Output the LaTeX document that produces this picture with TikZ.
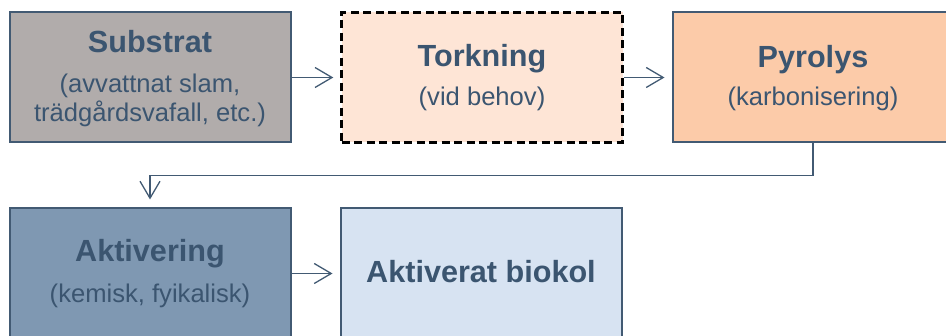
\documentclass[tikz,border=0pt]{standalone}
\usepackage{fontspec}
\setmainfont{Liberation Sans}
\usetikzlibrary{arrows.meta}

\definecolor{slate}{HTML}{425A73}
\definecolor{inkblue}{HTML}{3B5570}
\definecolor{greyfill}{HTML}{B1ACAB}
\definecolor{peachlight}{HTML}{FEE5D6}
\definecolor{peach}{HTML}{FCCBA9}
\definecolor{steel}{HTML}{7F98B2}
\definecolor{iceblue}{HTML}{D7E3F2}

\tikzset{
  stagebox/.style={draw=slate, line width=2pt, rectangle, inner sep=0pt,
    minimum width=281pt, minimum height=130pt},
  optbox/.style={draw=black, line width=2.4pt, dash pattern=on 8pt off 4.5pt,
    rectangle, inner sep=0pt, minimum width=281pt, minimum height=130pt},
  ttl/.style={anchor=base, inner sep=0pt, text=inkblue,
    font=\fontsize{30.6}{36}\selectfont\bfseries},
  sublbl/.style={anchor=base, inner sep=0pt, text=inkblue,
    font=\fontsize{25.6}{29}\selectfont},
  conn/.style={draw=slate, line width=1.3pt,
    -{Straight Barb[length=17pt, width=20pt, line width=1.3pt]}},
}

\begin{document}
\begin{tikzpicture}[x=1pt, y=-1pt]
  \useasboundingbox (0,0) rectangle (946,336);

  % process boxes
  \node[stagebox, fill=greyfill]   (sub)  at (150,77.5)  {};
  \node[optbox,   fill=peachlight] (tork) at (482,77.5)  {};
  \node[stagebox, fill=peach]      (pyr)  at (813,77.5)  {};
  \node[stagebox, fill=steel]      (akt)  at (150,273.5) {};
  \node[stagebox, fill=iceblue]    (bio)  at (481,273.5) {};

  % labels
  \node[ttl]    (subT)  at (150,52.7)  {Substrat};
  \node[sublbl] (subA)  at (150,93)    {(avvattnat slam,};
  \node[sublbl] (subB)  at (150,122)   {trädgårdsvafall, etc.)};

  \node[ttl]    (torkT) at (482,67)    {Torkning};
  \node[sublbl] (torkS) at (482,105.7) {(vid behov)};

  \node[ttl]    (pyrT)  at (813,67.5)  {Pyrolys};
  \node[sublbl] (pyrS)  at (813,106)   {(karbonisering)};

  \node[ttl]    (aktT)  at (150,262)   {Aktivering};
  \node[sublbl] (aktS)  at (150,302.5) {(kemisk, fyikalisk)};

  \node[ttl]    (bioT)  at (481,283)   {Aktiverat biokol};

  % flow connectors
  \draw[conn, shorten >=7pt] (sub) -- (tork);
  \draw[conn, shorten >=7pt] (tork) -- (pyr);
  \draw[conn, shorten >=8pt] (pyr.south) -- ++(0,32) -| (akt.north);
  \draw[conn, shorten >=7pt] (akt) -- (bio);
\end{tikzpicture}
\end{document}
